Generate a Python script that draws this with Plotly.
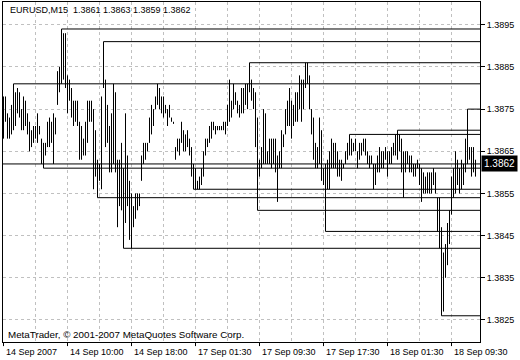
import plotly.graph_objects as go

symbol_title = "EURUSD,M15  1.3861 1.3863 1.3859 1.3862"
copyright_text = "MetaTrader, \u00a9 2001-2007 MetaQuotes Software Corp."
current_price = 1.3862

bar_high = [
    1.3878, 1.3878, 1.3874, 1.3873, 1.3876, 1.3881, 1.3879, 1.3880, 1.3879, 1.3875,
    1.3878, 1.3877, 1.3874, 1.3872, 1.3870, 1.3871, 1.3871, 1.3874, 1.3871, 1.3868,
    1.3867, 1.3867, 1.3872, 1.3873, 1.3872, 1.3874, 1.3873, 1.3884, 1.3885, 1.3894,
    1.3893, 1.3893, 1.3883, 1.3882, 1.3880, 1.3877, 1.3877, 1.3877, 1.3872, 1.3871,
    1.3868, 1.3872, 1.3877, 1.3877, 1.3877, 1.3875, 1.3870, 1.3863, 1.3862, 1.3878,
    1.3891, 1.3882, 1.3876, 1.3871, 1.3874, 1.3881, 1.3879, 1.3863, 1.3863, 1.3867,
    1.3861, 1.3874, 1.3864, 1.3858, 1.3855, 1.3852, 1.3855, 1.3855, 1.3855, 1.3864,
    1.3867, 1.3867, 1.3867, 1.3873, 1.3876, 1.3875, 1.3878, 1.3881, 1.3880, 1.3878,
    1.3878, 1.3876, 1.3875, 1.3876, 1.3873, 1.38720, 1.3866, 1.3868, 1.3868, 1.3872,
    1.3870, 1.3869, 1.3870, 1.3868, 1.3866, 1.3862, 1.3861, 1.3858, 1.3859, 1.3861,
    1.3865, 1.3868, 1.3868, 1.3871, 1.3872, 1.3872, 1.3871, 1.3871, 1.3871, 1.3871,
    1.3872, 1.3872, 1.3876, 1.3882, 1.3877, 1.3881, 1.3879, 1.3877, 1.3876, 1.3880,
    1.3880, 1.3881, 1.3881, 1.3886, 1.3882, 1.3880, 1.3879, 1.3873, 1.3863, 1.3866,
    1.3875, 1.3874, 1.3865, 1.3868, 1.3868, 1.3868, 1.3868, 1.3864, 1.3865, 1.3870,
    1.3869, 1.3875, 1.3877, 1.3880, 1.3877, 1.3876, 1.3879, 1.3879, 1.3883, 1.3882,
    1.3882, 1.3886, 1.3886, 1.3883, 1.3875, 1.3873, 1.3867, 1.3866, 1.3873, 1.3870,
    1.3861, 1.3862, 1.3863, 1.3865, 1.3868, 1.3867, 1.3867, 1.3865, 1.3863, 1.3863,
    1.3862, 1.3865, 1.3867, 1.3869, 1.3868, 1.3867, 1.3868, 1.3865, 1.3867, 1.3867,
    1.3868, 1.3868, 1.3865, 1.3864, 1.3864, 1.3862, 1.3862, 1.3864, 1.3866, 1.3865,
    1.3865, 1.3866, 1.3865, 1.3865, 1.3866, 1.3867, 1.3869, 1.3870, 1.3869, 1.3868,
    1.3865, 1.3865, 1.3865, 1.3864, 1.3864, 1.3862, 1.3862, 1.3863, 1.3862, 1.3861,
    1.3860, 1.3859, 1.3860, 1.3860, 1.3860, 1.3861, 1.3860, 1.3854, 1.3854, 1.3847,
    1.3841, 1.3843, 1.3848, 1.3851, 1.3859, 1.3861, 1.3865, 1.3863, 1.3861, 1.3863,
    1.3862, 1.3868, 1.3875, 1.3866, 1.3866, 1.3866, 1.3863,
]
bar_low = [
    1.3868, 1.3872, 1.3868, 1.3868, 1.3869, 1.3870, 1.3871, 1.3874, 1.3873, 1.3870,
    1.3870, 1.3871, 1.3869, 1.3865, 1.3866, 1.3867, 1.3868, 1.3867, 1.3869, 1.3862,
    1.3861, 1.3864, 1.3866, 1.3866, 1.3867, 1.3862, 1.3869, 1.3876, 1.3879, 1.3881,
    1.3882, 1.3880, 1.3874, 1.3877, 1.3873, 1.3871, 1.3872, 1.3871, 1.3863, 1.3863,
    1.3864, 1.3864, 1.3867, 1.3872, 1.3872, 1.3856, 1.3859, 1.3854, 1.3858, 1.3856,
    1.3880, 1.3866, 1.3867, 1.3860, 1.3860, 1.3862, 1.3860, 1.3847, 1.3852, 1.3851,
    1.3842, 1.3848, 1.3852, 1.3844, 1.3842, 1.3847, 1.3849, 1.3851, 1.3852, 1.3858,
    1.3862, 1.3863, 1.3865, 1.3867, 1.3869, 1.3871, 1.3875, 1.3876, 1.3875, 1.3874,
    1.3873, 1.3874, 1.3871, 1.3873, 1.3872, 1.38715, 1.3863, 1.3865, 1.3864, 1.3867,
    1.3865, 1.3865, 1.3866, 1.3864, 1.3859, 1.3856, 1.3856, 1.3856, 1.3856, 1.3857,
    1.3859, 1.3864, 1.3866, 1.3867, 1.3868, 1.3870, 1.3869, 1.3870, 1.3870, 1.3870,
    1.3870, 1.3869, 1.3871, 1.3872, 1.3873, 1.3875, 1.3876, 1.3874, 1.3873, 1.3874,
    1.3874, 1.3876, 1.3875, 1.3879, 1.3877, 1.3875, 1.3866, 1.3851, 1.3859, 1.3861,
    1.3862, 1.3862, 1.3862, 1.3862, 1.3861, 1.3862, 1.3860, 1.3853, 1.3861, 1.3861,
    1.3866, 1.3869, 1.3871, 1.3871, 1.3868, 1.3871, 1.3872, 1.3872, 1.3875, 1.3872,
    1.3875, 1.3880, 1.3881, 1.3875, 1.3869, 1.3863, 1.3861, 1.3861, 1.3862, 1.3858,
    1.3857, 1.3846, 1.3856, 1.3856, 1.3861, 1.3861, 1.3861, 1.3859, 1.3859, 1.3858,
    1.3861, 1.3862, 1.3863, 1.3864, 1.3864, 1.3865, 1.3865, 1.3861, 1.3863, 1.3864,
    1.3865, 1.3864, 1.3862, 1.3861, 1.3862, 1.3856, 1.3857, 1.3860, 1.3860, 1.3861,
    1.3861, 1.3863, 1.3859, 1.3862, 1.3862, 1.3864, 1.3864, 1.3863, 1.3865, 1.3860,
    1.3854, 1.3860, 1.3862, 1.3860, 1.3860, 1.3859, 1.3859, 1.3861, 1.3857, 1.3853,
    1.3855, 1.3855, 1.3855, 1.3855, 1.3855, 1.3857, 1.3855, 1.3846, 1.3842, 1.3826,
    1.3827, 1.3835, 1.3838, 1.3843, 1.3850, 1.3854, 1.3855, 1.3857, 1.3855, 1.3856,
    1.3857, 1.3860, 1.3862, 1.3863, 1.3859, 1.3860, 1.3859,
]

# fractal level lines: starting bar and price, extended to the right edge
level_start = [29, 50, 123, 5, 232, 197, 173, 20, 95, 47, 127, 161, 60, 219]
level_price = [1.3894, 1.3891, 1.3886, 1.3881, 1.3875, 1.3870, 1.3869,
               1.3861, 1.3856, 1.3854, 1.3851, 1.3846, 1.3842, 1.3826]

time_label_bars = [0, 32, 64, 96, 128, 160, 192, 224]
time_labels = ["14 Sep 2007", "14 Sep 10:00", "14 Sep 18:00", "17 Sep 01:30",
               "17 Sep 09:30", "17 Sep 17:30", "18 Sep 01:30", "18 Sep 09:30"]
grid_bars = [16, 32, 48, 64, 80, 96, 112, 128, 144, 160, 176, 192, 208, 224]
price_ticks = [1.3825, 1.3835, 1.3845, 1.3855, 1.3865, 1.3875, 1.3885, 1.3895]

X_MIN, X_MAX = -0.25, 238.25
Y_MIN, Y_MAX = 1.381978, 1.39004
FONT = "Liberation Sans"

bx, by = [], []
for i, (h, l) in enumerate(zip(bar_high, bar_low)):
    bx += [i, i, None]
    by += [l, h, None]

lx, ly = [], []
for s, p in zip(level_start, level_price):
    lx += [s, X_MAX, None]
    ly += [p, p, None]
lx += [X_MIN, X_MAX, None]
ly += [current_price, current_price, None]

fig = go.Figure()
fig.add_trace(go.Scatter(x=lx, y=ly, mode="lines", line=dict(color="black", width=1),
                         hoverinfo="skip", showlegend=False))
fig.add_trace(go.Scatter(x=bx, y=by, mode="lines", line=dict(color="black", width=1),
                         hoverinfo="skip", showlegend=False))

fig.update_layout(
    width=520, height=360,
    margin=dict(l=3, r=40, t=2, b=18),
    paper_bgcolor="white", plot_bgcolor="white",
    font=dict(family=FONT, size=9, color="black"),
    showlegend=False,
)
fig.update_xaxes(
    range=[X_MIN, X_MAX], tickvals=grid_bars, showticklabels=False, ticks="",
    showgrid=True, gridcolor="#c0c0c0", griddash="3px,3px", gridwidth=1,
    showline=True, linecolor="black", linewidth=1, mirror=True, zeroline=False,
)
fig.update_yaxes(
    range=[Y_MIN, Y_MAX], side="right", tickvals=price_ticks, tickformat=".4f",
    ticks="outside", ticklen=4, tickcolor="black", tickwidth=1,
    showgrid=True, gridcolor="#c0c0c0", griddash="3px,3px", gridwidth=1,
    showline=True, linecolor="black", linewidth=1, mirror=True, zeroline=False,
    tickfont=dict(family=FONT, size=9, color="black"),
)

annotations = []
shapes = []
for b, t in zip(time_label_bars, time_labels):
    annotations.append(dict(x=b, xref="x", y=-0.0285, yref="paper", text=t,
                            showarrow=False, xanchor="left", yanchor="middle",
                            xshift=0, font=dict(family=FONT, size=9, color="black")))
    shapes.append(dict(type="line", xref="x", yref="paper", x0=b, x1=b,
                       y0=0, y1=-0.012, line=dict(color="black", width=1)))

annotations.append(dict(x=0.0105, xref="paper", y=0.9765, yref="paper", text=symbol_title,
                        showarrow=False, xanchor="left", yanchor="middle",
                        font=dict(family=FONT, size=9, color="black")))
annotations.append(dict(x=0.006, xref="paper", y=0.022, yref="paper", text=copyright_text,
                        showarrow=False, xanchor="left", yanchor="middle",
                        font=dict(family=FONT, size=9.8, color="black")))
annotations.append(dict(x=1, xref="paper", y=current_price, yref="y",
                        text="%.4f" % current_price, showarrow=False,
                        xanchor="left", yanchor="middle", xshift=1,
                        bgcolor="black", borderpad=2,
                        font=dict(family=FONT, size=10, color="white")))

fig.update_layout(annotations=annotations, shapes=shapes)
fig.write_html("out.html")
